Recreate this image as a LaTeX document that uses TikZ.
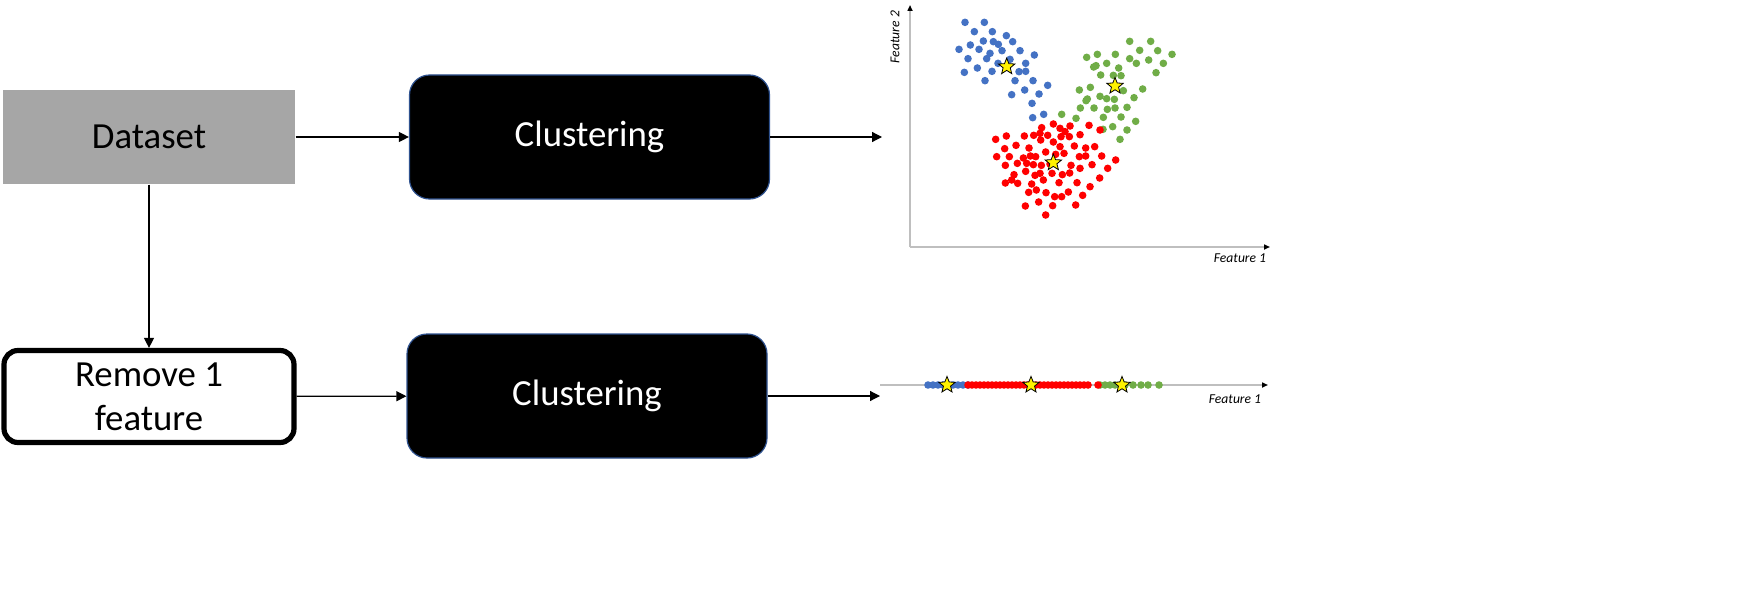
\documentclass[tikz,border=0pt]{standalone}
\usepackage{fontspec}
\setmainfont{Carlito}
\usetikzlibrary{shapes.geometric,arrows.meta}
\definecolor{dsgray}{HTML}{A6A6A6}
\definecolor{cblue}{HTML}{4472C4}
\definecolor{cgreen}{HTML}{70AD47}
\definecolor{cred}{HTML}{FF0000}
\definecolor{axgray}{HTML}{BFBFBF}
\definecolor{cborder}{HTML}{2F528F}
\begin{document}
\begin{tikzpicture}[x=0.5pt,y=-0.5pt,
 lbl/.style={font=\fontsize{18.4pt}{22pt}\selectfont, align=center},
 databox/.style={lbl, fill=dsgray, draw=none, minimum width=146.25pt, minimum height=47.25pt, inner sep=0pt},
 clubox/.style={lbl, text=white, fill=black, draw=cborder, line width=0.6pt, rounded corners=10pt, minimum width=180pt, minimum height=62pt, inner sep=0pt},
 rembox/.style={lbl, fill=white, draw=black, line width=2.6pt, rounded corners=7pt, minimum width=145pt, minimum height=46pt, inner sep=0pt},
 flow/.style={-{Triangle[length=5pt,width=5pt]}, line width=0.6pt},
 axisline/.style={draw=axgray, line width=0.8pt, -{Triangle[length=3pt,width=2.5pt,color=black]}},
 featlbl/.style={font=\fontsize{6.8pt}{8pt}\selectfont\itshape, inner sep=0pt},
 ystar/.style={star, star points=5, star point ratio=2.3, minimum size=8.6pt, inner sep=0pt, fill=yellow, draw=black, line width=0.4pt},
 dot/.style={radius=1.9pt}
]
\useasboundingbox (0,0) rectangle (1744,599);

% boxes
\node[databox] (data) at (149,137) {Dataset};
\node[clubox] (clu1) at (589.5,137) {Clustering};
\node[rembox] (rem) at (149,396.5) {Remove 1\\feature};
\node[clubox] (clu2) at (587,396) {Clustering};
\coordinate (out1) at (882,137);
\coordinate (out2) at (880,396);

\draw[flow] (data) -- (clu1);
\draw[flow] (clu1) -- (out1);
\draw[flow] (data) -- (rem);
\draw[flow] (rem) -- (clu2);
\draw[flow] (clu2) -- (out2);

% scatter plot axes
\coordinate (o) at (910,247);
\coordinate (ytop) at (910,5);
\coordinate (xend) at (1270,247);
\draw[axisline] (o) -- (ytop);
\draw[axisline] (o) -- (xend);
\node[featlbl, rotate=90] (f2) at (895,37) {Feature 2};
\node[featlbl] (f1) at (1240,258) {Feature 1};

\begin{scope}[xshift=440pt, x=0.16667pt, y=-0.16667pt]
\foreach \a/\b in {255/67,313/67,283/95,337/95,379/107,271/135,310/123,340/125,355/133,398/125,237/148,297/148,330/160,366/152,420/152,463/165,264/176,320/176,354/190,390/178,437/190,253/217,292/204,336/214,417/215,437/214,405/242,459/242,315/242,503/256,395/284,434/270,477/282,456/310,458/353,491/343}
  \fill[cblue] (\a,\b) circle[dot];
\foreach \a/\b in {749/124,812/124,620/172,652/163,706/163,779/151,833/152,876/163,680/190,749/176,769/190,806/180,850/190,641/201,648/197,662/225,716/204,700/226,723/227,828/218,598/270,631/262,730/272,788/267,622/297,660/289,618/302,680/296,703/298,762/293,601/324,642/324,682/328,705/324,741/322,545/343,588/355,670/352,723/351,767/364,698/380,669/388,741/390,720/418}
  \fill[cgreen] (\a,\b) circle[dot];
\foreach \a/\b in {485/383,520/372,570/378,627/376,480/400,540/385,555/395,347/418,379/408,433/408,461/406,503/406,543/410,568/410,600/404,660/390,374/446,408/436,447/444,482/420,520/426,540/440,583/438,617/444,644/440,350/470,388/470,430/474,451/468,467/470,497/456,527/463,552/460,598/470,617/468,665/468,707/480,376/496,412/490,440/490,460/494,484/496,510/492,573/496,600/505,636/494,683/505,402/524,437/514,465/526,480/520,516/520,547/524,569/519,395/540,413/550,455/552,490/540,376/549,537/548,591/548,659/534,446/577,469/570,498/578,524/590,545/590,565/576,630/560,608/586,476/606,436/618,518/617,587/615,497/645}
  \fill[cred] (\a,\b) circle[dot];
\node[ystar] (sb) at (380,200) {};
\node[ystar] (sg) at (705,258) {};
\node[ystar] (sr) at (520,488) {};
\end{scope}

% 1D plot
\coordinate (l0) at (880,385);
\coordinate (l1) at (1268,385);
\draw[axisline] (l0) -- (l1);
\node[featlbl] (f1b) at (1235,399) {Feature 1};
\foreach \x in {928,933,...,968}
  \fill[cblue] (\x,385) circle[dot];
\foreach \x in {1100,1105,...,1126,1133,1141,1148,1159}
  \fill[cgreen] (\x,385) circle[dot];
\foreach \x in {968,972,...,1090,1098}
  \fill[cred] (\x,385) circle[dot];
\node[ystar] (s1) at (947,385) {};
\node[ystar] (s2) at (1031,385) {};
\node[ystar] (s3) at (1122,385) {};
\end{tikzpicture}
\end{document}
